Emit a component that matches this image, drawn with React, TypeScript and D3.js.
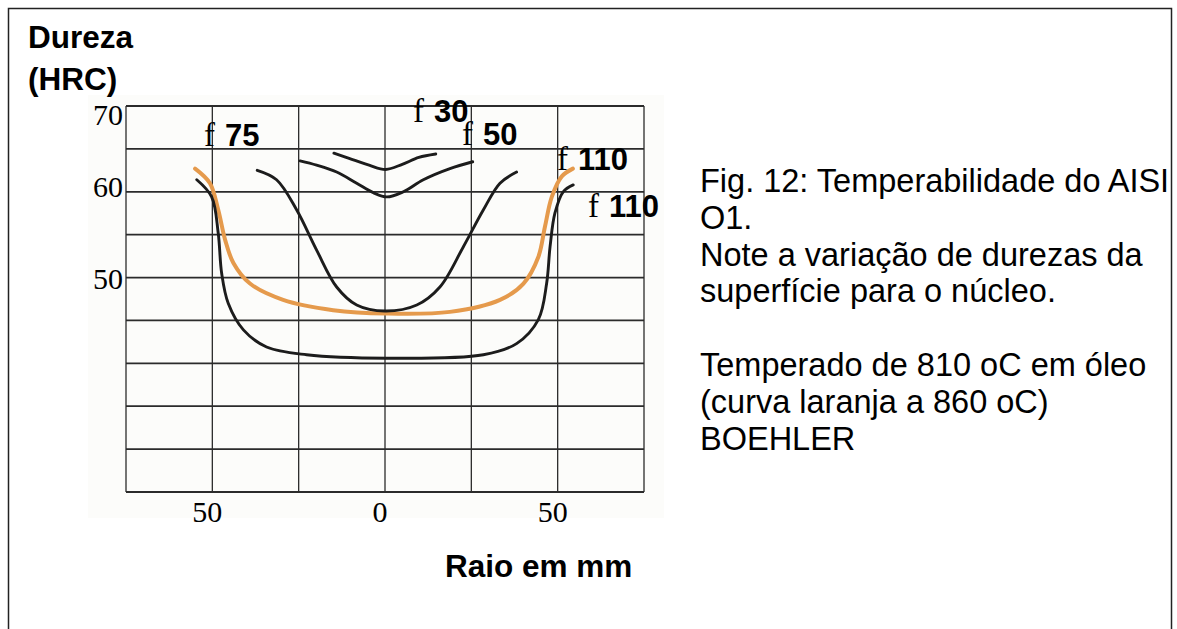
import React from "react";
import * as d3 from "d3";

// Radius (mm) and hardness (HRC)
const f30Radius = [-14.8, -10.4, -4.6, 0.2, 5.0, 9.8, 14.7];
const f30Hrc = [64.5, 63.9, 63.1, 62.6, 63.2, 64.0, 64.4];

const f50Radius = [-24.6, -19.8, -14.0, -8.2, -3.4, 0.5, 5.3, 11.1, 18.8, 25.4];
const f50Hrc = [63.6, 63.1, 62.3, 61.0, 59.9, 59.4, 60.0, 61.4, 62.7, 63.5];

const f75Radius = [-37.0, -31.4, -25.6, -19.8, -14.0, -8.2, 0, 9.2, 15.9, 22.7, 28.5, 33.3, 38.1];
const f75Hrc = [62.5, 61.4, 57.9, 53.2, 48.9, 46.8, 46.1, 46.8, 48.9, 53.6, 57.9, 61.0, 62.3];

const f110OrangeRadius = [-55.0, -50.7, -48.3, -46.3, -43.9, -39.1, -29.5, -15.0, 0.5, 18.8, 33.3, 40.1, 44.4, 46.3, 48.3, 51.2, 54.4];
const f110OrangeHrc = [62.7, 61.0, 57.9, 54.4, 51.7, 49.3, 47.4, 46.2, 45.8, 46.0, 47.4, 49.3, 52.4, 55.9, 59.4, 61.8, 62.7];

const f110BlackRadius = [-54.5, -50.2, -48.3, -47.3, -45.4, -41.0, -34.3, -22.7, 0.5, 28.5, 38.1, 44.4, 46.8, 47.8, 49.2, 51.6, 54.5];
const f110BlackHrc = [61.4, 59.4, 55.2, 50.5, 47.0, 43.9, 41.9, 41.0, 40.6, 41.0, 42.3, 45.1, 49.3, 53.6, 57.5, 60.0, 60.8];

const xGridValues = [-75, -50, -25, 0, 25, 50, 75];
const yGridValues = [25, 30, 35, 40, 45, 50, 55, 60, 65, 70];
const yTickLabels = [70, 60, 50];
const xTickLabels = [-50, 0, 50];

const captionLines = [
  "Fig. 12: Temperabilidade do AISI",
  "O1.",
  "Note a variação de durezas da",
  "superfície para o núcleo.",
  "",
  "Temperado de 810 oC em óleo",
  "(curva laranja a 860 oC)",
  "BOEHLER",
];

const diameterLabels = ["75", "30", "50", "110", "110"];

const W = 1177;
const H = 629;

export default function App() {
  const x = d3.scaleLinear().domain([-75, 75]).range([126, 644]);
  const y = d3.scaleLinear().domain([25, 70]).range([492, 106]);

  const line = d3
    .line<[number, number]>()
    .x((d) => x(d[0]))
    .y((d) => y(d[1]))
    .curve(d3.curveCatmullRom.alpha(0.5));

  const zip = (a: number[], b: number[]) => a.map((v, i) => [v, b[i]] as [number, number]);

  const blackCurves = [
    zip(f30Radius, f30Hrc),
    zip(f50Radius, f50Hrc),
    zip(f75Radius, f75Hrc),
    zip(f110BlackRadius, f110BlackHrc),
  ];
  const orange = zip(f110OrangeRadius, f110OrangeHrc);

  const serif = "'Liberation Serif', 'Times New Roman', serif";
  const sans = "'Liberation Sans', Arial, sans-serif";

  // label anchors: [x px, baseline px]
  const labelPos: [number, number][] = [
    [204, 146],
    [413, 122],
    [462, 145],
    [557, 170],
    [588, 217],
  ];

  return (
    <svg
      width={W}
      height={H}
      style={{ position: "absolute", left: 0, top: 0, background: "#fff" }}
    >
      <rect x={0} y={0} width={W} height={H} fill="#fff" />
      <rect x={8.5} y={8.5} width={1163} height={700} fill="none" stroke="#222" strokeWidth={1.5} />
      <rect x={88} y={95} width={576} height={423} fill="#fcfcfa" />

      {/* grid */}
      {yGridValues.map((v) => (
        <line
          key={"h" + v}
          x1={x(-75)}
          x2={x(75)}
          y1={y(v)}
          y2={y(v)}
          stroke="#2b2b2b"
          strokeWidth={1.8}
        />
      ))}
      {xGridValues.map((v) => (
        <line
          key={"v" + v}
          x1={x(v)}
          x2={x(v)}
          y1={y(70)}
          y2={y(25)}
          stroke="#2b2b2b"
          strokeWidth={1.3}
        />
      ))}

      {/* curves */}
      <path d={line(orange) || ""} fill="none" stroke="#e59a4c" strokeWidth={4} strokeLinecap="round" />
      {blackCurves.map((c, i) => (
        <path key={i} d={line(c) || ""} fill="none" stroke="#1c1c1c" strokeWidth={2.9} strokeLinecap="round" />
      ))}

      {/* y tick labels */}
      {yTickLabels.map((v) => (
        <text
          key={"yl" + v}
          x={123}
          y={y(v) + (v === 70 ? 19 : v === 60 ? 5 : 11)}
          textAnchor="end"
          fontFamily={serif}
          fontSize={30}
          fill="#000"
        >
          {v}
        </text>
      ))}

      {/* x tick labels */}
      {xTickLabels.map((v) => (
        <text
          key={"xl" + v}
          x={x(v) - 5}
          y={522}
          textAnchor="middle"
          fontFamily={serif}
          fontSize={30}
          fill="#000"
        >
          {Math.abs(v)}
        </text>
      ))}

      {/* axis titles */}
      <text x={28} y={48} fontFamily={sans} fontWeight="bold" fontSize={31.5}>
        Dureza
      </text>
      <text x={28} y={90} fontFamily={sans} fontWeight="bold" fontSize={31.5}>
        (HRC)
      </text>
      <text x={445} y={577} fontFamily={sans} fontWeight="bold" fontSize={31.5}>
        Raio em mm
      </text>

      {/* diameter labels */}
      {diameterLabels.map((t, i) => (
        <text key={"d" + i} x={labelPos[i][0]} y={labelPos[i][1]} fill="#000">
          <tspan fontFamily={serif} fontSize={33}>
            f
          </tspan>
          <tspan dx={10} fontFamily={sans} fontWeight="bold" fontSize={31}>
            {t}
          </tspan>
        </text>
      ))}

      {/* caption */}
      {captionLines.map((t, i) => (
        <text key={"c" + i} x={700} y={192 + i * 36.8} fontFamily={sans} fontSize={32.5} fill="#000">
          {t}
        </text>
      ))}
    </svg>
  );
}
